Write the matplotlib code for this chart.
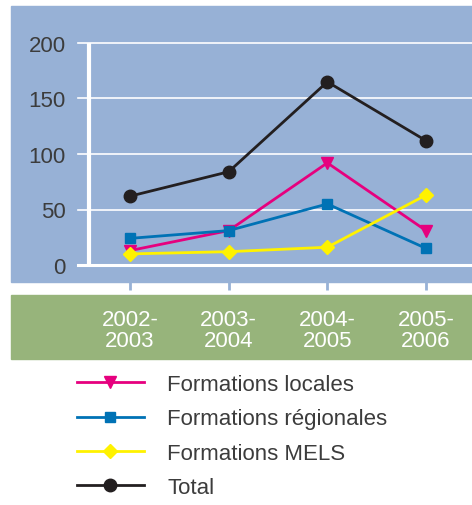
import matplotlib.pyplot as plt
from matplotlib.patches import Rectangle
from matplotlib.lines import Line2D
import matplotlib.transforms as mtransforms

plt.rcParams['font.family'] = ['Liberation Sans', 'DejaVu Sans']

# data
years = ["2002-\n2003", "2003-\n2004", "2004-\n2005", "2005-\n2006"]
locales = [13, 31, 92, 31]
regionales = [24, 31, 55, 15]
mels = [10, 12, 16, 63]
total = [62, 84, 165, 112]

blue_bg = "#97b1d6"
green_bg = "#97b47b"
text_col = "#3c3c3c"

W, H = 472, 506
fig = plt.figure(figsize=(W / 100, H / 100), dpi=100)


def fx(px):
    return px / W


def fy(py):
    # py measured from the top of the picture
    return (H - py) / H


# background panels
fig.patches.append(Rectangle((fx(11), fy(283)), fx(461), 276 / H,
                             transform=fig.transFigure, color=blue_bg, zorder=-5))
fig.patches.append(Rectangle((fx(11), fy(360)), fx(461), 64 / H,
                             transform=fig.transFigure, color=green_bg, zorder=-5))

ax = fig.add_axes([fx(78), fy(266), fx(394), 222 / H])
ax.set_zorder(2)
ax.set_facecolor("none")
x = list(range(len(years)))
ax.set_xlim(-0.527, 3.466)
ax.set_ylim(0, 200)

for s in ax.spines.values():
    s.set_visible(False)

# white grid
for yv in [0, 50, 100, 150, 200]:
    ax.axhline(yv, color="white", lw=2.2 if yv == 0 else 1.2, zorder=1, clip_on=False)
ax.plot([-0.415, -0.415], [0, 200], color="white", lw=3, zorder=1,
        solid_capstyle="butt", clip_on=False)

ax.plot(x, total, color="#231f20", lw=2, marker="o", ms=9, zorder=3, clip_on=False)
ax.plot(x, locales, color="#e6007e", lw=2, marker="v", ms=8, zorder=3, clip_on=False)
ax.plot(x, regionales, color="#0072b5", lw=2, marker="s", ms=7, zorder=4, clip_on=False)
ax.plot(x, mels, color="#fff200", lw=2, marker="D", ms=7, zorder=5, clip_on=False)

ax.set_yticks([0, 50, 100, 150, 200])
ax.set_yticklabels(["0", "50", "100", "150", "200"])
ax.tick_params(axis="y", length=0, pad=9, labelsize=16, labelcolor=text_col)

ax.set_xticks(x)
ax.set_xticklabels(years, linespacing=1.0)
ax.tick_params(axis="x", length=0, pad=32, labelsize=16, labelcolor="white")

# small blue ticks under the blue panel
trans = mtransforms.blended_transform_factory(ax.transData, fig.transFigure)
ax.vlines(x, fy(291), fy(283), transform=trans, color=blue_bg, lw=2, clip_on=False)

handles = [
    Line2D([], [], color="#e6007e", lw=2, marker="v", ms=8),
    Line2D([], [], color="#0072b5", lw=2, marker="s", ms=7),
    Line2D([], [], color="#fff200", lw=2, marker="D", ms=7),
    Line2D([], [], color="#231f20", lw=2, marker="o", ms=9),
]
labels = ["Formations locales", "Formations régionales", "Formations MELS", "Total"]
leg = fig.legend(handles, labels, loc="upper left", bbox_to_anchor=(fx(77), fy(375)),
                 frameon=False, fontsize=16, handlelength=3.0, handletextpad=1.05,
                 labelspacing=0.6, borderpad=0, borderaxespad=0)
for t in leg.get_texts():
    t.set_color(text_col)

fig.savefig("out.png", dpi=100)
